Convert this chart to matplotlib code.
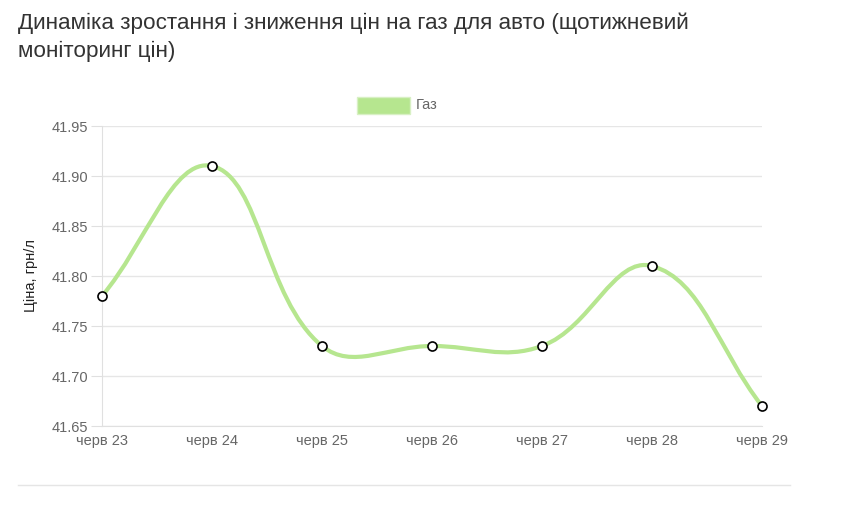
import numpy as np
import matplotlib
matplotlib.use('Agg')
import matplotlib.pyplot as plt
from matplotlib.path import Path
from matplotlib.patches import PathPatch, Rectangle
from matplotlib.lines import Line2D

plt.rcParams['font.family'] = ['Liberation Sans', 'DejaVu Sans']

# data
dates = ['черв 23', 'черв 24', 'черв 25', 'черв 26', 'черв 27', 'черв 28', 'черв 29']
prices = [41.78, 41.91, 41.73, 41.73, 41.73, 41.81, 41.67]
series_name = 'Газ'
title = 'Динаміка зростання і зниження цін на газ для авто (щотижневий\nмоніторинг цін)'
ylabel = 'Ціна, грн/л'

line_color = '#b6e68f'
W, H = 867, 505
fig = plt.figure(figsize=(W / 100, H / 100), dpi=100)
ax = fig.add_axes([102 / W, (H - 426) / H, 660 / W, 300 / H])

x = np.arange(len(prices), dtype=float)
y = np.array(prices)
ax.set_xlim(0, len(prices) - 1)
ax.set_ylim(41.65, 41.95)


# chart.js style spline (tension 0.4), distances in pixel space
def spline_path(xs, ys, t=0.4, sx=110.0, sy=1000.0):
    px, py = xs * sx, ys * sy
    n = len(xs)
    cps = []
    for i in range(n):
        pi = max(i - 1, 0)
        ni = min(i + 1, n - 1)
        d01 = np.hypot(px[i] - px[pi], py[i] - py[pi])
        d12 = np.hypot(px[ni] - px[i], py[ni] - py[i])
        tot = d01 + d12
        s01 = d01 / tot if tot else 0
        s12 = d12 / tot if tot else 0
        fa, fb = t * s01, t * s12
        prev_cp = (px[i] - fa * (px[ni] - px[pi]), py[i] - fa * (py[ni] - py[pi]))
        next_cp = (px[i] + fb * (px[ni] - px[pi]), py[i] + fb * (py[ni] - py[pi]))
        cps.append((prev_cp, next_cp))
    verts = [(xs[0], ys[0])]
    codes = [Path.MOVETO]
    for i in range(1, n):
        c1 = cps[i - 1][1]
        c2 = cps[i][0]
        verts += [(c1[0] / sx, c1[1] / sy), (c2[0] / sx, c2[1] / sy), (xs[i], ys[i])]
        codes += [Path.CURVE4] * 3
    return Path(verts, codes)


ax.add_patch(PathPatch(spline_path(x, y), facecolor='none', edgecolor=line_color,
                       lw=3, clip_on=False, zorder=3))
ax.plot(x, y, 'o', ms=6.5, mfc='white', mec='black', mew=1.2, clip_on=False, zorder=4)

# axes styling
ax.set_yticks(np.arange(41.65, 41.951, 0.05))
ax.set_yticklabels([f'{v:.2f}' for v in np.arange(41.65, 41.951, 0.05)])
ax.set_xticks(x)
ax.set_xticklabels(dates)
ax.grid(axis='y', color='#e6e6e6', lw=1)
ax.set_axisbelow(True)
for s in ['top', 'right']:
    ax.spines[s].set_visible(False)
ax.spines['left'].set_color('#e0e0e0')
ax.spines['bottom'].set_color('#e0e0e0')
ax.tick_params(axis='y', colors='#e0e0e0', labelcolor='#666666', labelsize=10.5, length=8, pad=2)
ax.tick_params(axis='x', length=0, labelcolor='#666666', labelsize=10.5, pad=6)
ax.set_ylabel(ylabel, fontsize=10.5, color='#222222')
ax.yaxis.set_label_coords(-0.097, 0.5)

# legend
fig.patches.append(Rectangle((357 / W, (H - 114) / H), 53 / W, 17 / H,
                             transform=fig.transFigure, facecolor=line_color,
                             edgecolor='#d8f0c4', lw=1))
fig.text(416 / W, (H - 105) / H, series_name, fontsize=10.5, color='#666666', va='center')

# title
fig.text(18 / W, (H - 12) / H, title, fontsize=16.2, color='#333333', va='top',
         linespacing=1.45)

# separator line
fig.add_artist(Line2D([18 / W, 790 / W], [(H - 485) / H] * 2, color='#e5e5e5', lw=1))

fig.savefig('out.png', dpi=100)
